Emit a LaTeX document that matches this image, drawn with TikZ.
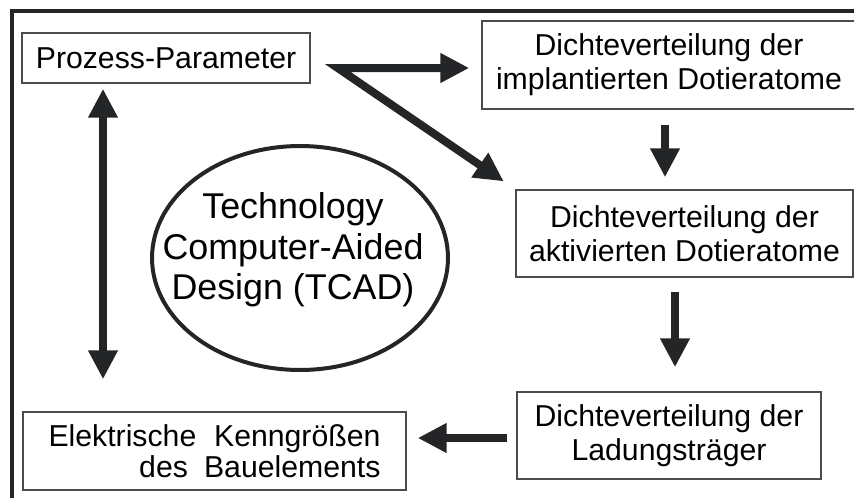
\documentclass[tikz,border=0pt]{standalone}
\usepackage{fontspec}
\setmainfont{Liberation Sans}
\usepackage{tikz}
\usetikzlibrary{shapes.geometric, arrows.meta}
\definecolor{ink}{RGB}{35,37,39}
\definecolor{boxline}{RGB}{75,75,75}
\tikzstyle{bigarrow} = [ink,line width=0.16cm,-{Triangle[length=0.58cm,width=0.56cm]}]
\tikzstyle{twoway} = [bigarrow,{Triangle[length=0.58cm,width=0.56cm]}-{Triangle[length=0.58cm,width=0.56cm]}]
\tikzstyle{stage} = [draw=boxline,line width=0.03cm,inner sep=0pt,align=center,font=\fontsize{17.2}{19.2}\selectfont]

\begin{document}
\begin{tikzpicture}[x=0.02cm,y=-0.02cm]
	\useasboundingbox (0,0) rectangle (854,497);
	
	% Frame:
	% only the top and left sides are inside the page
	\draw [ink, line width=0.07cm] (12,505) -- (12,11) -- (865,11);
	
	% Boxes:
	\node [stage, minimum width=5.76cm, minimum height=1cm] (param) at (166,58) {Prozess-Parameter};
	\node [stage, minimum width=7.48cm, minimum height=1.76cm] (implant) at (669,65) {Dichteverteilung der\\implantierten Dotieratome};
	\node [stage, minimum width=6.74cm, minimum height=1.74cm] (active) at (684.5,233.5) {Dichteverteilung der\\aktivierten Dotieratome};
	\node [stage, minimum width=6.08cm, minimum height=1.74cm] (carrier) at (669,435.5) {Dichteverteilung der\\Ladungstr\"ager};
	\node [stage, minimum width=7.66cm, minimum height=1.56cm, text width=6.64cm, align=right, font=\fontsize{17.2}{17.8}\selectfont] (result) at (214.5,451) {Elektrische\hfill Kenngr\"o\ss en\\des\hspace{0.2em} Bauelements};
	
	% TCAD in the middle:
	\node [ellipse, draw=ink, line width=0.08cm, minimum width=5.92cm, minimum height=4.48cm, inner sep=0pt] (tcad) at (300,258) {};
	\node [align=center, font=\fontsize{20.4}{23}\selectfont] (tcadtext) at ([shift={(-7,-8)}]tcad.center) {Technology\\Computer-Aided\\Design (TCAD)};
	
	% Arrows:
	\coordinate (fork) at ([shift={(27,10)}]param.east);
	\draw [twoway, line join=miter, shorten <=0.24cm, shorten >=0.28cm] (fork -| implant.west) -- (fork) -- (active.north west);
	\draw [twoway, shorten <=0.1cm, shorten >=0.64cm] ([shift={(-63,0)}]param.south) -- ([shift={(-63,0)}]param.south |- result.north);
	\draw [bigarrow, shorten <=0.3cm, shorten >=0.24cm] ([shift={(-4,0)}]implant.south) -- ([shift={(-4,0)}]implant.south |- active.north);
	\draw [bigarrow, shorten <=0.28cm, shorten >=0.48cm] ([shift={(-9.5,0)}]active.south) -- ([shift={(-9.5,0)}]active.south |- carrier.north);
	\draw [bigarrow, shorten <=0.18cm, shorten >=0.22cm] ([shift={(0,2.5)}]carrier.west) -- ([shift={(0,2.5)}]carrier.west -| result.east);
	
\end{tikzpicture}
\end{document}
